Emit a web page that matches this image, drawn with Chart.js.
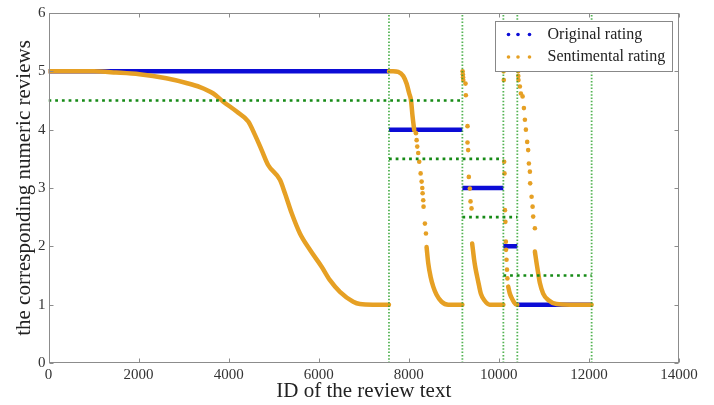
<!DOCTYPE html>
<html>
<head>
<meta charset="utf-8">
<script src="https://cdn.jsdelivr.net/npm/chart.js@4.4.1/dist/chart.umd.min.js"></script>
<style>
  html, body { margin: 0; padding: 0; background: #fff; }
  canvas { display: block; }
</style>
</head>
<body>
<canvas id="chart" width="714" height="405"></canvas>
<script>
// review classes along the ID axis (original rating of each block)
const classStart = [0, 7560, 9190, 10100, 10410];
const classEnd = [7560, 9190, 10100, 10410, 12060];
const originalRating = [5, 4, 3, 2, 1];

// green dotted separators
const boundaryIds = [7560, 9190, 10100, 10410, 12060];
const thresholdLevel = [4.5, 3.5, 2.5, 1.5];
const thresholdStart = [0, 7560, 9190, 10100];
const thresholdEnd = [9190, 10100, 10410, 12060];

// sentimental rating - dense runs
const run5X = [0, 1000, 1500, 2020, 2615, 3060, 3363, 3659, 3881, 4178, 4436, 4584, 4733, 4880, 5139, 5250, 5398, 5583, 5805, 6065, 6249, 6471, 6766, 6915, 7200, 7560];
const run5Y = [5.0, 5.0, 4.98, 4.95, 4.88, 4.80, 4.73, 4.62, 4.48, 4.31, 4.14, 3.91, 3.65, 3.39, 3.14, 2.91, 2.57, 2.22, 1.94, 1.65, 1.42, 1.22, 1.05, 1.01, 1.0, 1.0];
const run4TopX = [7560, 7650, 7766, 7877, 7951, 8010, 8048, 8085, 8121];
const run4TopY = [5.0, 5.0, 4.99, 4.92, 4.79, 4.62, 4.51, 4.22, 3.99];
const run4LowX = [8395, 8432, 8484, 8543, 8617, 8728, 8876, 9190];
const run4LowY = [1.99, 1.71, 1.48, 1.31, 1.17, 1.05, 1.0, 1.0];
const run3LowX = [9407, 9429, 9451, 9482, 9518, 9556, 9600, 9673, 9800, 10100];
const run3LowY = [2.05, 1.91, 1.77, 1.62, 1.48, 1.34, 1.19, 1.08, 1.0, 1.0];
const run2LowX = [10207, 10240, 10282, 10330, 10393, 10410];
const run2LowY = [1.31, 1.2, 1.12, 1.05, 1.0, 1.0];
const run1LowX = [10800, 10838, 10873, 10911, 10984, 11096, 11282, 11578, 12060];
const run1LowY = [1.91, 1.71, 1.54, 1.37, 1.19, 1.08, 1.01, 1.0, 1.0];

// sentimental rating - scattered points
const dots4X = [8159, 8174, 8188, 8210, 8232, 8263, 8285, 8300, 8307, 8321, 8328, 8358, 8381];
const dots4Y = [3.94, 3.82, 3.71, 3.60, 3.45, 3.25, 3.11, 3.0, 2.91, 2.79, 2.68, 2.39, 2.22];
const dots3X = [9195, 9200, 9205, 9210, 9260, 9267, 9304, 9304, 9318, 9333, 9356, 9371, 9393];
const dots3Y = [5.0, 4.95, 4.9, 4.85, 4.79, 4.59, 4.06, 3.78, 3.65, 3.19, 2.99, 2.77, 2.65];
const dots2X = [10105, 10110, 10118, 10125, 10135, 10145, 10155, 10160, 10170, 10180, 10190];
const dots2Y = [5.0, 4.85, 3.45, 3.25, 2.62, 2.42, 2.08, 1.94, 1.77, 1.6, 1.45];
const dots1X = [10429, 10432, 10436, 10467, 10489, 10527, 10556, 10578, 10600, 10629, 10651, 10667, 10689, 10695, 10727, 10749, 10762, 10800];
const dots1Y = [5.0, 4.92, 4.85, 4.74, 4.62, 4.57, 4.37, 4.17, 4.0, 3.79, 3.65, 3.42, 3.28, 3.08, 2.85, 2.68, 2.51, 2.31];

const xTicks = [0, 2000, 4000, 6000, 8000, 10000, 12000, 14000];
const yTicks = [0, 1, 2, 3, 4, 5, 6];
const legendLabels = ['Original rating', 'Sentimental rating'];

const BLUE = '#0c0cd6';
const ORANGE = '#e6a024';
const GREEN = '#168a16';
const SERIF = "'Liberation Serif', 'Times New Roman', serif";

const zip = (xs, ys) => xs.map((v, i) => ({ x: v, y: ys[i] }));

const datasets = [];

// green dotted guides on top
boundaryIds.forEach(id => {
  datasets.push({
    data: [{ x: id, y: 0 }, { x: id, y: 6 }],
    showLine: true, borderColor: 'rgba(40,160,40,0.8)', borderWidth: 1.8,
    borderDash: [1.5, 1.8], pointRadius: 0, order: 0
  });
});
thresholdLevel.forEach((lv, i) => {
  datasets.push({
    data: [{ x: thresholdStart[i], y: lv }, { x: thresholdEnd[i], y: lv }],
    showLine: true, borderColor: GREEN, borderWidth: 2.6,
    borderDash: [2.8, 3.9], pointRadius: 0, order: 0
  });
});

// sentimental rating
[[run5X, run5Y], [run4TopX, run4TopY], [run4LowX, run4LowY], [run3LowX, run3LowY],
 [run2LowX, run2LowY], [run1LowX, run1LowY]].forEach(([xs, ys]) => {
  datasets.push({
    data: zip(xs, ys), showLine: true, borderColor: ORANGE, borderWidth: 4.5,
    borderCapStyle: 'round', borderJoinStyle: 'round', cubicInterpolationMode: 'monotone',
    pointRadius: 0, order: 1
  });
});
[[dots4X, dots4Y], [dots3X, dots3Y], [dots2X, dots2Y], [dots1X, dots1Y]].forEach(([xs, ys]) => {
  datasets.push({
    data: zip(xs, ys), showLine: false, backgroundColor: ORANGE, borderWidth: 0,
    pointRadius: 2.3, order: 1
  });
});

// original rating
originalRating.forEach((r, i) => {
  datasets.push({
    data: [{ x: classStart[i], y: r }, { x: classEnd[i], y: r }],
    showLine: true, borderColor: BLUE, borderWidth: 4.5, pointRadius: 0, order: 2
  });
});

const framePlugin = {
  id: 'frame',
  afterDraw(chart) {
    const { ctx, chartArea: a, scales: { x, y } } = chart;
    ctx.save();
    ctx.strokeStyle = '#8c8c8c';
    ctx.lineWidth = 1;
    const L = Math.round(a.left) + 0.5, R = Math.round(a.right) - 0.5;
    const T = Math.round(a.top) + 0.5, B = Math.round(a.bottom) - 0.5;
    ctx.strokeRect(L, T, R - L, B - T);
    ctx.beginPath();
    xTicks.forEach(v => {
      const px = Math.round(x.getPixelForValue(v)) + 0.5;
      ctx.moveTo(px, B); ctx.lineTo(px, B - 4);
      ctx.moveTo(px, T); ctx.lineTo(px, T + 4);
    });
    yTicks.forEach(v => {
      const py = Math.round(y.getPixelForValue(v)) + 0.5;
      ctx.moveTo(L, py); ctx.lineTo(L + 4, py);
      ctx.moveTo(R, py); ctx.lineTo(R - 4, py);
    });
    ctx.stroke();

    // legend box
    const bx = 495.5, by = 21.5, bw = 177, bh = 50;
    ctx.fillStyle = '#fff';
    ctx.fillRect(bx, by, bw, bh);
    ctx.strokeStyle = '#888';
    ctx.strokeRect(bx, by, bw, bh);
    const colors = [BLUE, ORANGE];
    const rows = [34.5, 57];
    ctx.font = '16px ' + SERIF;
    ctx.textBaseline = 'middle';
    ctx.textAlign = 'left';
    legendLabels.forEach((t, i) => {
      ctx.fillStyle = colors[i];
      [508.5, 518, 529.5].forEach(dx => {
        ctx.beginPath();
        ctx.arc(dx, rows[i], 1.8, 0, Math.PI * 2);
        ctx.fill();
      });
      ctx.fillStyle = '#222';
      ctx.fillText(t, 547.5, rows[i]);
    });
    ctx.restore();
  }
};

new Chart(document.getElementById('chart'), {
  type: 'scatter',
  data: { datasets },
  options: {
    responsive: false,
    animation: false,
    layout: { padding: { top: 13, right: 35, left: 0, bottom: 0 } },
    plugins: { legend: { display: false }, tooltip: { enabled: false } },
    scales: {
      x: {
        type: 'linear', min: 0, max: 14000,
        afterFit: s => { s.height = 42; },
        grid: { display: false, drawTicks: false },
        border: { display: false },
        ticks: { stepSize: 2000, padding: 3, color: '#333', font: { family: SERIF, size: 15 },
                 callback: v => String(v), maxRotation: 0 },
        title: { display: true, text: 'ID of the review text', color: '#222',
                 font: { family: SERIF, size: 21 }, padding: { top: 0, bottom: 1 } }
      },
      y: {
        type: 'linear', min: 0, max: 6,
        afterFit: s => { s.width = 48.5; },
        grid: { display: false, drawTicks: false },
        border: { display: false },
        ticks: { stepSize: 1, padding: 3, color: '#333', font: { family: SERIF, size: 15 } },
        title: { display: true, text: 'the corresponding numeric reviews', color: '#222',
                 font: { family: SERIF, size: 21 }, padding: { top: 12, bottom: 0 } }
      }
    }
  },
  plugins: [framePlugin]
});
</script>
</body>
</html>
